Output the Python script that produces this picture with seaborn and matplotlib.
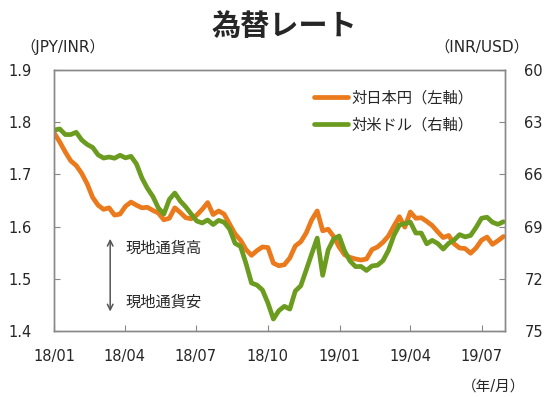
import pandas as pd
import numpy as np
import seaborn as sns
import matplotlib.pyplot as plt

dates = pd.date_range('2018-01-01', '2019-07-29', freq='7D')

# JPY per INR (left axis)
jpy_inr = [1.779, 1.762, 1.743, 1.726, 1.717, 1.702, 1.682, 1.656, 1.641, 1.633,
           1.636, 1.622, 1.624, 1.639, 1.647, 1.641, 1.636, 1.637, 1.631, 1.626,
           1.613, 1.616, 1.636, 1.627, 1.617, 1.615, 1.622, 1.633, 1.646, 1.623,
           1.630, 1.624, 1.605, 1.586, 1.574, 1.556, 1.545, 1.554, 1.561, 1.560,
           1.530, 1.525, 1.527, 1.540, 1.563, 1.571, 1.588, 1.613, 1.630, 1.592,
           1.595, 1.581, 1.561, 1.546, 1.541, 1.538, 1.536, 1.538, 1.556, 1.561,
           1.570, 1.582, 1.601, 1.619, 1.599, 1.628, 1.616, 1.617, 1.610, 1.602,
           1.590, 1.579, 1.583, 1.567, 1.559, 1.558, 1.549, 1.559, 1.574, 1.580,
           1.566, 1.573, 1.581]

# INR per USD (right axis, inverted)
inr_usd = [63.45, 63.39, 63.71, 63.71, 63.58, 64.02, 64.28, 64.45, 64.88, 65.06,
           65.00, 65.07, 64.90, 65.05, 64.96, 65.40, 66.21, 66.80, 67.27, 67.93,
           68.28, 67.44, 67.07, 67.53, 67.87, 68.28, 68.68, 68.79, 68.62, 68.88,
           68.64, 68.75, 69.14, 69.96, 70.14, 71.12, 72.24, 72.36, 72.64, 73.39,
           74.31, 73.83, 73.58, 73.74, 72.70, 72.40, 71.49, 70.56, 69.66, 71.80,
           70.34, 69.71, 69.54, 70.40, 70.98, 71.30, 71.29, 71.52, 71.26, 71.22,
           70.96, 70.37, 69.51, 68.91, 68.83, 68.74, 69.37, 69.37, 69.99, 69.79,
           69.97, 70.29, 69.96, 69.77, 69.46, 69.59, 69.51, 69.05, 68.52, 68.46,
           68.75, 68.87, 68.72]

tick_dates = pd.to_datetime(['2018-01-01', '2018-04-01', '2018-07-01', '2018-10-01',
                             '2019-01-01', '2019-04-01', '2019-07-01'])
tick_labels = ['18/01', '18/04', '18/07', '18/10', '19/01', '19/04', '19/07']
left_ticks = [1.4, 1.5, 1.6, 1.7, 1.8, 1.9]
right_ticks = [60, 63, 66, 69, 72, 75]

df = pd.DataFrame({'date': dates, 'jpy': jpy_inr, 'usd': inr_usd})

sns.set_style('white')
plt.rcParams['font.family'] = ['DejaVu Sans', 'Noto Sans CJK JP']

orange = '#EA7A1C'
green = '#6C9C1F'
grey = '#888888'

fig = plt.figure(figsize=(5.53, 3.97), dpi=100)
ax = fig.add_axes([0.0982, 0.1662, 0.815, 0.6575])
ax2 = ax.twinx()

sns.lineplot(data=df, x='date', y='jpy', ax=ax, color=orange, lw=3.4, label='対日本円（左軸）', legend=False)
sns.lineplot(data=df, x='date', y='usd', ax=ax2, color=green, lw=3.4, label='対米ドル（右軸）', legend=False)

ax.set_xlim(pd.Timestamp('2018-01-01'), pd.Timestamp('2019-07-31'))
ax.set_ylim(1.4, 1.9)
ax.set_yticks(left_ticks)
ax.set_yticklabels([f'{t:.1f}' for t in left_ticks])
ax2.set_ylim(75, 60)
ax2.set_yticks(right_ticks)
ax.set_xticks(tick_dates)
ax.set_xticklabels(tick_labels)
ax.set_xlabel('')
ax.set_ylabel('')
ax2.set_ylabel('')

for a in (ax, ax2):
    for s in a.spines.values():
        s.set_color(grey)
        s.set_linewidth(1)
ax.tick_params(axis='x', direction='in', length=4, color=grey, labelsize=10.5, pad=13, bottom=True)
ax.tick_params(axis='y', direction='in', length=4, color=grey, labelsize=10.5, pad=16, left=True)
ax2.tick_params(axis='y', direction='in', length=4, color=grey, labelsize=10.5, pad=14, right=True)

# legend
h1, l1 = ax.get_legend_handles_labels()
h2, l2 = ax2.get_legend_handles_labels()
ax2.legend(h1 + h2, l1 + l2, loc='upper left', bbox_to_anchor=(0.56, 0.95), frameon=False,
           fontsize=11, handlelength=2.2, handletextpad=0.2, labelspacing=0.75, borderpad=0)

# direction arrow
ax.annotate('', xy=(0.124, 1.582), xytext=(0.124, 1.432),
            xycoords=('axes fraction', 'data'), textcoords=('axes fraction', 'data'),
            arrowprops=dict(arrowstyle='<->', color='#555555', lw=1.1))
ax.text(0.157, 1.558, '現地通貨高', transform=ax.get_yaxis_transform(), fontsize=11, va='center')
ax.text(0.157, 1.456, '現地通貨安', transform=ax.get_yaxis_transform(), fontsize=11, va='center')

fig.text(0.5136, 0.932, '為替レート', ha='center', va='center', fontsize=21, fontweight='bold')
fig.text(63 / 553, 1 - 47 / 397, '（JPY/INR）', ha='center', va='center', fontsize=11)
fig.text(482 / 553, 1 - 47 / 397, '（INR/USD）', ha='center', va='center', fontsize=11)
fig.text(494 / 553, 1 - 386 / 397, '（年/月）', ha='center', va='center', fontsize=10.5)

fig.savefig('out.png', dpi=100)
